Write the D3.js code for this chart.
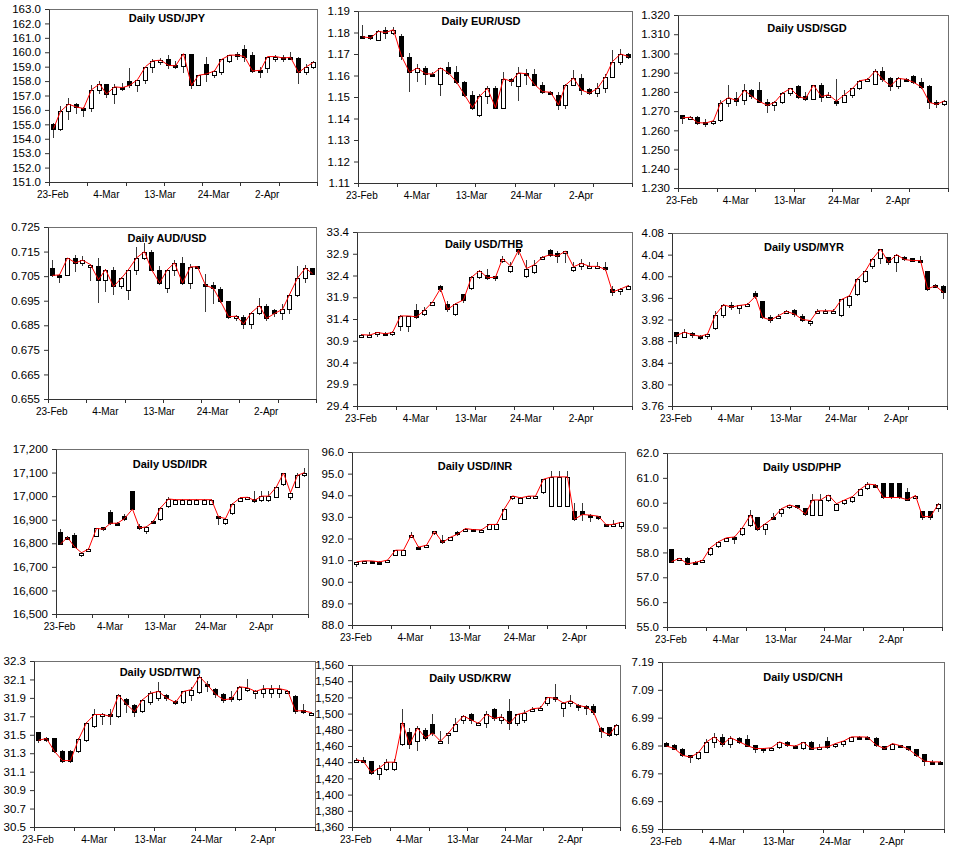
<!DOCTYPE html>
<html><head><meta charset="utf-8">
<script src="https://cdn.jsdelivr.net/npm/d3@7"></script>
<style>
body{margin:0;background:#fff}
svg{display:block}
text{font-family:Arial,"Liberation Sans",sans-serif;fill:#000}
</style>
</head><body>
<svg id="c" width="954" height="849"></svg>
<script>
// ---- categories (business days) ----
const dates = ["23-Feb","24-Feb","25-Feb","26-Feb","27-Feb","2-Mar","3-Mar","4-Mar","5-Mar","6-Mar",
  "9-Mar","10-Mar","11-Mar","12-Mar","13-Mar","16-Mar","17-Mar","18-Mar","19-Mar","20-Mar",
  "23-Mar","24-Mar","25-Mar","26-Mar","27-Mar","30-Mar","31-Mar","1-Apr","2-Apr","3-Apr",
  "6-Apr","7-Apr","8-Apr","9-Apr","10-Apr"];

// ---- series values: [open, high, low, close] ----
const usdjpy = [[155.0,155.1,154.1,154.7],[154.7,156.3,154.6,155.9],[155.9,156.8,155.4,156.4],[156.4,156.5,155.8,156.2],[156.15,156.2,155.6,156.1],
[156.1,157.7,155.9,157.4],[157.4,158.0,157.2,157.8],[157.8,157.8,156.9,157.1],[157.1,157.8,156.5,157.6],[157.6,157.9,157.4,157.55],
[158.0,158.9,157.6,157.7],[157.7,158.1,157.3,158.1],[158.1,159.0,157.9,159.0],[159.0,159.5,158.6,159.4],[159.3,159.6,159.2,159.45],
[159.5,159.8,158.9,159.1],[159.1,159.4,158.9,159.05],[159.05,159.9,158.6,159.9],[159.9,159.9,157.5,157.7],[157.7,158.4,157.7,158.4],
[159.2,159.7,158.0,158.5],[158.4,158.8,158.3,158.7],[158.6,159.5,158.5,159.5],[159.4,159.8,159.3,159.8],[159.9,160.0,159.5,159.8],
[160.2,160.5,159.4,159.7],[159.8,160.0,158.6,158.7],[158.8,159.0,158.3,158.75],[158.9,159.7,158.6,159.7],[159.6,159.8,159.4,159.7],
[159.7,159.8,159.4,159.6],[159.7,160.0,159.6,159.65],[159.6,159.7,157.9,158.6],[158.6,159.2,158.5,159.0],[159.0,159.4,158.9,159.3]];

const eurusd = [[1.1785,1.1835,1.1780,1.1780],[1.1790,1.1790,1.1770,1.1775],[1.1765,1.1810,1.1765,1.1805],[1.1810,1.1825,1.1775,1.1800],[1.1800,1.1825,1.1795,1.1813],
[1.1785,1.1795,1.1675,1.1690],[1.1688,1.1705,1.1530,1.1615],[1.1615,1.1655,1.1575,1.1635],[1.1635,1.1645,1.1560,1.1608],[1.1608,1.1615,1.1600,1.1607],
[1.1560,1.1635,1.1510,1.1635],[1.1638,1.1665,1.1605,1.1612],[1.1615,1.1645,1.1565,1.1570],[1.1570,1.1575,1.1505,1.1510],[1.1510,1.1530,1.1445,1.1450],
[1.1418,1.1515,1.1413,1.1503],[1.1505,1.1550,1.1470,1.1540],[1.1540,1.1550,1.1450,1.1450],[1.1448,1.1615,1.1448,1.1585],[1.1585,1.1590,1.1555,1.1573],
[1.1550,1.1638,1.1485,1.1612],[1.1612,1.1628,1.1560,1.1608],[1.1608,1.1630,1.1555,1.1558],[1.1558,1.1570,1.1520,1.1525],[1.1525,1.1530,1.1520,1.1522],
[1.1510,1.1525,1.1445,1.1463],[1.1463,1.1560,1.1450,1.1555],[1.1555,1.1625,1.1555,1.1588],[1.1588,1.1605,1.1515,1.1532],[1.1535,1.1540,1.1515,1.1518],
[1.1520,1.1565,1.1505,1.1540],[1.1540,1.1605,1.1525,1.1595],[1.1592,1.1720,1.1592,1.1665],[1.1665,1.1725,1.1655,1.1700],[1.1698,1.1705,1.1683,1.1688]];

const usdsgd = [[1.2679,1.2679,1.2638,1.2665],[1.2665,1.2675,1.2665,1.2668],[1.2668,1.2675,1.2635,1.2640],[1.2642,1.2658,1.2620,1.2638],[1.2640,1.2655,1.2635,1.2650],
[1.2655,1.2760,1.2650,1.2742],[1.2742,1.2835,1.2725,1.2770],[1.2770,1.2800,1.2730,1.2755],[1.2760,1.2840,1.2738,1.2808],[1.2808,1.2815,1.2770,1.2778],
[1.2808,1.2850,1.2745,1.2750],[1.2747,1.2765,1.2695,1.2730],[1.2730,1.2752,1.2708,1.2745],[1.2745,1.2798,1.2740,1.2793],[1.2793,1.2820,1.2785,1.2818],
[1.2830,1.2837,1.2768,1.2776],[1.2777,1.2800,1.2760,1.2765],[1.2765,1.2835,1.2762,1.2835],[1.2835,1.2845,1.2755,1.2776],[1.2778,1.2800,1.2775,1.2785],
[1.2755,1.2865,1.2730,1.2752],[1.2750,1.2810,1.2745,1.2785],[1.2785,1.2822,1.2772,1.2818],[1.2818,1.2860,1.2815,1.2858],[1.2858,1.2872,1.2855,1.2865],
[1.2842,1.2920,1.2840,1.2910],[1.2910,1.2930,1.2858,1.2865],[1.2870,1.2878,1.2810,1.2832],[1.2830,1.2878,1.2822,1.2870],[1.2868,1.2870,1.2858,1.2865],
[1.2883,1.2888,1.2845,1.2850],[1.2850,1.2870,1.2820,1.2825],[1.2833,1.2835,1.2718,1.2745],[1.2745,1.2758,1.2720,1.2735],[1.2735,1.2758,1.2730,1.2753]];

const audusd = [[0.7083,0.7115,0.7050,0.7053],[0.7056,0.7058,0.7028,0.7055],[0.7055,0.7124,0.7055,0.7124],[0.7124,0.7135,0.7070,0.7104],[0.7104,0.7130,0.7095,0.7115],
[0.7088,0.7100,0.7035,0.7097],[0.7090,0.7125,0.6945,0.7035],[0.7035,0.7080,0.6988,0.7077],[0.7077,0.7088,0.6978,0.7008],[0.7008,0.7045,0.7000,0.7042],
[0.6992,0.7078,0.6955,0.7077],[0.7077,0.7168,0.7057,0.7124],[0.7124,0.7185,0.7120,0.7150],[0.7150,0.7158,0.7075,0.7077],[0.7077,0.7090,0.7020,0.7022],
[0.7000,0.7078,0.6985,0.7077],[0.7077,0.7115,0.7055,0.7104],[0.7104,0.7128,0.7020,0.7022],[0.7022,0.7100,0.7000,0.7088],[0.7090,0.7092,0.7085,0.7088],
[0.7018,0.7060,0.6910,0.7013],[0.7013,0.7025,0.6940,0.7000],[0.6998,0.7005,0.6945,0.6948],[0.6948,0.6950,0.6878,0.6885],[0.6887,0.6890,0.6870,0.6887],
[0.6885,0.6890,0.6838,0.6855],[0.6855,0.6903,0.6838,0.6902],[0.6902,0.6960,0.6895,0.6930],[0.6928,0.6938,0.6873,0.6878],[0.6912,0.6915,0.6888,0.6898],
[0.6900,0.6935,0.6875,0.6915],[0.6915,0.6978,0.6900,0.6975],[0.6975,0.7090,0.6970,0.7042],[0.7042,0.7095,0.7025,0.7083],[0.7082,0.7085,0.7058,0.7060]];

const usdthb = [[31.04,31.05,31.02,31.04],[31.02,31.10,31.01,31.03],[31.08,31.10,31.00,31.09],[31.07,31.09,31.03,31.06],[31.08,31.12,31.03,31.09],
[31.25,31.50,31.15,31.47],[31.25,31.48,31.12,31.47],[31.60,31.75,31.43,31.45],[31.52,31.68,31.50,31.60],[31.73,31.80,31.72,31.79],
[32.15,32.18,32.05,32.10],[31.75,31.82,31.58,31.62],[31.52,31.76,31.50,31.75],[31.97,31.98,31.78,31.84],[32.11,32.38,32.10,32.36],
[32.36,32.52,32.35,32.51],[32.42,32.55,32.33,32.35],[32.38,32.40,32.30,32.36],[32.78,32.85,32.72,32.79],[32.50,32.72,32.48,32.62],
[33.00,33.02,32.90,32.98],[32.38,32.75,32.36,32.56],[32.47,32.75,32.45,32.65],[32.80,32.85,32.78,32.82],[32.98,33.00,32.85,32.88],
[32.92,32.97,32.72,32.85],[32.92,32.96,32.70,32.96],[32.52,32.70,32.50,32.60],[32.61,32.78,32.55,32.68],[32.61,32.72,32.60,32.61],
[32.61,32.70,32.60,32.61],[32.60,32.72,32.52,32.54],[32.10,32.15,31.95,32.02],[32.07,32.12,31.98,32.09],[32.09,32.19,32.08,32.17]];

const usdmyr = [[3.8966,3.8970,3.8770,3.8904],[3.8885,3.9020,3.8885,3.8966],[3.8953,3.8960,3.8870,3.8916],[3.8900,3.8910,3.8840,3.8890],[3.8890,3.8940,3.8860,3.8930],
[3.9040,3.9360,3.9020,3.9290],[3.9290,3.9480,3.9250,3.9470],[3.9470,3.9520,3.9390,3.9430],[3.9410,3.9470,3.9320,3.9460],[3.9480,3.9500,3.9470,3.9480],
[3.9690,3.9720,3.9600,3.9630],[3.9550,3.9550,3.9230,3.9240],[3.9250,3.9280,3.9150,3.9190],[3.9260,3.9300,3.9240,3.9270],[3.9340,3.9370,3.9320,3.9350],
[3.9370,3.9390,3.9260,3.9300],[3.9270,3.9300,3.9180,3.9200],[3.9180,3.9200,3.9090,3.9180],[3.9360,3.9400,3.9330,3.9360],[3.9360,3.9400,3.9330,3.9360],
[3.9360,3.9400,3.9330,3.9360],[3.9290,3.9580,3.9260,3.9570],[3.9460,3.9650,3.9440,3.9640],[3.9670,3.9960,3.9660,3.9950],[3.9920,4.0110,3.9900,4.0100],
[4.0190,4.0330,4.0150,4.0320],[4.0340,4.0510,4.0250,4.0500],[4.0350,4.0360,4.0220,4.0260],[4.0270,4.0410,4.0100,4.0400],[4.0360,4.0370,4.0300,4.0310],
[4.0330,4.0340,4.0280,4.0290],[4.0300,4.0370,4.0280,4.0290],[4.0090,4.0090,3.9750,3.9770],[3.9840,3.9860,3.9800,3.9820],[3.9820,3.9830,3.9600,3.9700]];

const usdidr = [[16849,16862,16797,16797],[16828,16830,16820,16825],[16835,16845,16785,16785],[16758,16765,16745,16760],[16775,16778,16768,16775],
[16831,16865,16830,16863],[16867,16870,16855,16860],[16934,16940,16883,16885],[16887,16890,16878,16885],[16915,16925,16900,16905],
[17020,17020,16945,16945],[16875,16880,16860,16865],[16852,16873,16845,16870],[16895,16900,16888,16893],[16902,16952,16900,16950],
[16960,16995,16955,16988],[16968,16988,16966,16985],[16968,16988,16966,16985],[16968,16988,16966,16985],[16968,16988,16966,16985],
[16968,16988,16966,16985],[16968,16988,16966,16985],[16915,16915,16880,16912],[16885,16906,16883,16905],[16928,16970,16925,16967],
[16980,16996,16978,16994],[16995,16998,16990,16995],[16990,17022,16975,16982],[16982,17020,16980,17000],[16982,17020,16980,17000],
[16998,17042,16996,17040],[17050,17100,17048,17098],[16996,17016,16990,17015],[17040,17098,17038,17088],[17090,17118,17085,17100]];

const usdinr = [[90.80,90.93,90.72,90.92],[90.96,90.98,90.95,90.97],[90.97,90.98,90.94,90.96],[90.93,90.94,90.88,90.92],[90.99,91.01,90.98,91.00],
[91.26,91.47,91.25,91.46],[91.26,91.47,91.25,91.46],[92.08,92.30,92.06,92.18],[91.62,91.64,91.50,91.60],[91.69,91.71,91.66,91.69],
[92.24,92.34,92.22,92.33],[91.94,92.18,91.80,91.82],[91.95,92.07,91.93,92.06],[92.28,92.35,92.15,92.20],[92.35,92.47,92.34,92.46],
[92.42,92.44,92.40,92.41],[92.40,92.42,92.38,92.40],[92.43,92.66,92.42,92.65],[92.43,92.66,92.42,92.65],[92.90,93.40,92.88,93.38],
[93.85,93.98,93.84,93.97],[93.65,93.90,93.64,93.88],[93.95,93.98,93.94,93.96],[93.95,93.98,93.92,93.96],[94.15,94.76,94.12,94.74],
[93.49,95.10,93.49,94.85],[93.49,95.10,93.49,94.85],[93.49,95.10,93.49,94.85],[93.26,93.62,92.86,92.89],[93.26,93.62,92.85,93.11],
[93.09,93.12,92.82,93.08],[93.04,93.06,92.90,93.03],[92.66,92.68,92.60,92.62],[92.65,92.85,92.62,92.66],[92.60,92.78,92.48,92.75]];

const usdphp = [[58.12,58.13,57.60,57.63],[57.74,57.78,57.72,57.76],[57.78,57.80,57.52,57.54],[57.62,57.64,57.52,57.60],[57.67,57.70,57.60,57.68],
[57.92,58.20,57.90,58.19],[58.26,58.44,58.22,58.43],[58.47,58.60,58.45,58.59],[58.64,58.65,58.38,58.62],[58.74,59.01,58.72,59.00],
[59.10,59.70,59.08,59.51],[59.42,59.44,58.90,58.93],[58.93,59.17,58.75,59.16],[59.42,59.60,59.38,59.40],[59.58,59.78,59.45,59.76],
[59.81,59.92,59.80,59.91],[59.91,59.92,59.78,59.81],[59.78,59.80,59.52,59.54],[59.50,60.35,59.50,60.11],[59.50,60.35,59.50,60.11],
[60.10,60.33,60.08,60.31],[59.72,59.97,59.70,59.96],[59.98,60.12,59.96,60.11],[60.05,60.26,60.03,60.25],[60.32,60.56,60.30,60.55],
[60.59,60.82,60.57,60.75],[60.73,60.75,60.70,60.72],[60.79,60.80,60.20,60.21],[60.79,60.80,60.20,60.21],[60.79,60.80,60.20,60.21],
[60.43,60.58,60.10,60.12],[60.26,60.30,60.22,60.29],[59.65,59.66,59.35,59.44],[59.65,59.66,59.35,59.44],[59.78,59.98,59.65,59.96]];

const usdtwd = [[31.53,31.53,31.42,31.44],[31.47,31.48,31.43,31.46],[31.46,31.47,31.31,31.32],[31.32,31.33,31.21,31.22],[31.32,31.33,31.21,31.22],
[31.32,31.46,31.31,31.45],[31.44,31.64,31.43,31.63],[31.60,31.78,31.58,31.72],[31.70,31.74,31.62,31.72],[31.72,31.78,31.62,31.70],
[31.70,31.94,31.69,31.93],[31.89,31.90,31.75,31.83],[31.82,31.83,31.70,31.75],[31.76,31.89,31.75,31.88],[31.85,31.98,31.83,31.95],
[31.90,32.07,31.88,31.97],[31.93,31.94,31.88,31.90],[31.87,31.88,31.83,31.85],[31.85,31.98,31.84,31.97],[31.93,32.02,31.88,31.99],
[31.96,32.15,31.95,32.13],[32.05,32.08,31.98,32.04],[32.00,32.01,31.91,31.94],[31.94,31.95,31.85,31.88],[31.91,31.97,31.87,31.89],
[31.89,32.03,31.88,32.02],[31.99,32.10,31.97,32.01],[31.97,31.99,31.90,31.97],[31.95,32.04,31.91,32.00],[31.95,32.04,31.91,32.00],
[31.95,32.04,31.91,32.00],[31.98,31.99,31.96,31.98],[31.92,31.93,31.74,31.76],[31.77,31.83,31.74,31.76],[31.74,31.75,31.73,31.74]];

const usdkrw = [[1443,1445,1440,1443],[1443,1446,1440,1441],[1441,1442,1426,1427],[1425,1437,1419,1433],[1432,1444,1430,1440],
[1432,1444,1430,1440],[1462,1506,1461,1489],[1477,1482,1457,1462],[1466,1485,1455,1482],[1480,1482,1467,1470],
[1487,1499,1474,1476],[1466,1478,1465,1466],[1473,1477,1464,1476],[1479,1495,1478,1487],[1492,1498,1488,1497],
[1499,1501,1488,1492],[1488,1490,1486,1488],[1488,1503,1483,1499],[1506,1507,1492,1494],[1492,1500,1488,1496],
[1503,1518,1481,1488],[1488,1500,1486,1499],[1492,1505,1490,1501],[1506,1508,1504,1506],[1507,1509,1506,1507],
[1513,1521,1511,1520],[1520,1536,1516,1519],[1507,1514,1497,1513],[1513,1523,1510,1516],[1511,1512,1505,1510],
[1510,1511,1499,1508],[1510,1512,1500,1502],[1482,1483,1471,1478],[1483,1484,1472,1474],[1475,1487,1474,1486]];

const usdcnh = [[6.900,6.901,6.887,6.888],[6.891,6.894,6.876,6.879],[6.879,6.880,6.853,6.855],[6.856,6.857,6.832,6.848],[6.846,6.866,6.843,6.865],
[6.867,6.912,6.866,6.903],[6.903,6.935,6.884,6.921],[6.921,6.930,6.890,6.894],[6.897,6.925,6.885,6.918],[6.918,6.920,6.900,6.903],
[6.912,6.928,6.887,6.889],[6.891,6.892,6.866,6.879],[6.880,6.882,6.868,6.879],[6.881,6.884,6.874,6.882],[6.883,6.904,6.882,6.903],
[6.901,6.906,6.889,6.891],[6.890,6.891,6.886,6.888],[6.882,6.902,6.876,6.901],[6.901,6.906,6.877,6.879],[6.882,6.897,6.880,6.883],
[6.907,6.920,6.882,6.885],[6.889,6.898,6.886,6.897],[6.895,6.907,6.890,6.906],[6.906,6.922,6.905,6.921],[6.922,6.923,6.919,6.921],
[6.922,6.923,6.918,6.920],[6.918,6.919,6.889,6.891],[6.887,6.888,6.876,6.879],[6.879,6.898,6.877,6.897],[6.892,6.893,6.887,6.889],
[6.887,6.888,6.875,6.877],[6.876,6.877,6.852,6.855],[6.858,6.859,6.820,6.834],[6.832,6.838,6.829,6.831],[6.832,6.833,6.830,6.831]];

// ---- y tick labels ----
const jpyTicks = [151,152,153,154,155,156,157,158,159,160,161,162,163];
const eurTicks = [1.11,1.12,1.13,1.14,1.15,1.16,1.17,1.18,1.19];
const sgdTicks = [1.23,1.24,1.25,1.26,1.27,1.28,1.29,1.30,1.31,1.32];
const audTicks = [0.655,0.665,0.675,0.685,0.695,0.705,0.715,0.725];
const thbTicks = [29.4,29.9,30.4,30.9,31.4,31.9,32.4,32.9,33.4];
const myrTicks = [3.76,3.80,3.84,3.88,3.92,3.96,4.00,4.04,4.08];
const idrTicks = [16500,16600,16700,16800,16900,17000,17100,17200];
const inrTicks = [88,89,90,91,92,93,94,95,96];
const phpTicks = [55,56,57,58,59,60,61,62];
const twdTicks = [30.5,30.7,30.9,31.1,31.3,31.5,31.7,31.9,32.1,32.3];
const krwTicks = [1360,1380,1400,1420,1440,1460,1480,1500,1520,1540,1560];
const cnhTicks = [6.59,6.69,6.79,6.89,6.99,7.09,7.19];

const titles = ["Daily USD/JPY","Daily EUR/USD","Daily USD/SGD","Daily AUD/USD","Daily USD/THB","Daily USD/MYR",
  "Daily USD/IDR","Daily USD/INR","Daily USD/PHP","Daily USD/TWD","Daily USD/KRW","Daily USD/CNH"];

// ---- layout (positions only) ----
const panels = [
  {data:usdjpy, ticks:jpyTicks, fmt:".1f",  plot:[49,9,317,182],    title:[167,18]},
  {data:eurusd, ticks:eurTicks, fmt:".2f",  plot:[358,11,632,183],  title:[481,21]},
  {data:usdsgd, ticks:sgdTicks, fmt:".3f",  plot:[678,15,948,188],  title:[807,28]},
  {data:audusd, ticks:audTicks, fmt:".3f",  plot:[48,227,316,399],  title:[167,238]},
  {data:usdthb, ticks:thbTicks, fmt:".1f",  plot:[357,232,632,406], title:[484,244]},
  {data:usdmyr, ticks:myrTicks, fmt:".2f",  plot:[672,233,947,406], title:[804,247]},
  {data:usdidr, ticks:idrTicks, fmt:",.0f", plot:[56,449,308,614],  title:[170,464]},
  {data:usdinr, ticks:inrTicks, fmt:".1f",  plot:[352,452,625,625], title:[475,466]},
  {data:usdphp, ticks:phpTicks, fmt:".1f",  plot:[667,453,942,627], title:[802,467]},
  {data:usdtwd, ticks:twdTicks, fmt:".1f",  plot:[34,661,315,827],  title:[160,672]},
  {data:usdkrw, ticks:krwTicks, fmt:",.0f", plot:[352,665,620,827], title:[470,678]},
  {data:usdcnh, ticks:cnhTicks, fmt:".2f",  plot:[662,662,944,829], title:[803,677]}
];

const svg = d3.select("#c");

panels.forEach((p, pi) => {
  const [l, t, r, b] = p.plot;
  const x = d3.scaleBand().domain(dates).range([l, r]).padding(0);
  const step = x.step();
  const y = d3.scaleLinear().domain([p.ticks[0], p.ticks[p.ticks.length - 1]]).range([b, t]);
  const g = svg.append("g");

  // frame
  g.append("rect").attr("x", l + 0.5).attr("y", t + 0.5).attr("width", r - l).attr("height", b - t)
    .attr("fill", "#fff").attr("stroke", "#707070").attr("stroke-width", 1);

  // y axis
  const ya = d3.axisLeft(y).tickValues(p.ticks).tickFormat(d3.format(p.fmt))
    .tickSizeInner(4).tickSizeOuter(0).tickPadding(4);
  const yg = g.append("g").attr("transform", `translate(${l},0)`).call(ya);
  yg.select(".domain").attr("stroke", "#333");
  yg.selectAll(".tick line").attr("stroke", "#333");
  yg.selectAll("text").attr("font-size", "11.5px").attr("font-family", "Arial, 'Liberation Sans', sans-serif").attr("fill", "#000");

  // x axis line
  g.append("line").attr("x1", l).attr("x2", r + 1).attr("y1", b + 0.5).attr("y2", b + 0.5).attr("stroke", "#333");
  // tick marks every 5 categories (boundaries)
  const bounds = dates.filter((d, i) => i % 5 === 0).map(d => x(d)).concat([r]);
  g.selectAll(".xt").data(bounds).join("line")
    .attr("x1", d => Math.round(d) + 0.5).attr("x2", d => Math.round(d) + 0.5)
    .attr("y1", b).attr("y2", b + 4).attr("stroke", "#333");
  // labels every 7 categories
  g.selectAll(".xl").data(dates.filter((d, i) => i % 7 === 0)).join("text")
    .attr("x", d => x(d) + step / 2).attr("y", b + 16)
    .attr("text-anchor", "middle").attr("font-size", "10px").text(d => d);

  // candles
  const bw = 5;
  const cx = i => Math.round(x(dates[i]) + step / 2);
  const cg = g.append("g");
  p.data.forEach((d, i) => {
    const [o, h, lo, c] = d;
    const xc = cx(i) + 0.5;
    cg.append("line").attr("x1", xc).attr("x2", xc)
      .attr("y1", Math.round(y(h))).attr("y2", Math.round(y(lo)) + 1)
      .attr("stroke", "#3a3a3a").attr("stroke-width", 1);
    let yt = Math.round(y(Math.max(o, c)));
    let yb = Math.round(y(Math.min(o, c)));
    if (yb - yt < 2) { yb = yt + 2; }
    const up = c >= o;
    cg.append("rect").attr("x", xc - (bw - 1) / 2).attr("y", yt + 0.5)
      .attr("width", bw - 1).attr("height", yb - yt)
      .attr("fill", up ? "#fff" : "#000").attr("stroke", "#000").attr("stroke-width", 1);
  });

  // close line
  const line = d3.line().x((d, i) => cx(i) + 0.5).y(d => y(d[3]));
  g.append("path").datum(p.data).attr("d", line).attr("fill", "none")
    .attr("stroke", "#ff0000").attr("stroke-width", 1);

  // title
  g.append("text").attr("x", p.title[0]).attr("y", p.title[1] + 4)
    .attr("text-anchor", "middle").attr("font-size", "11px").attr("font-weight", "bold")
    .text(titles[pi]);
});
</script>
</body></html>
